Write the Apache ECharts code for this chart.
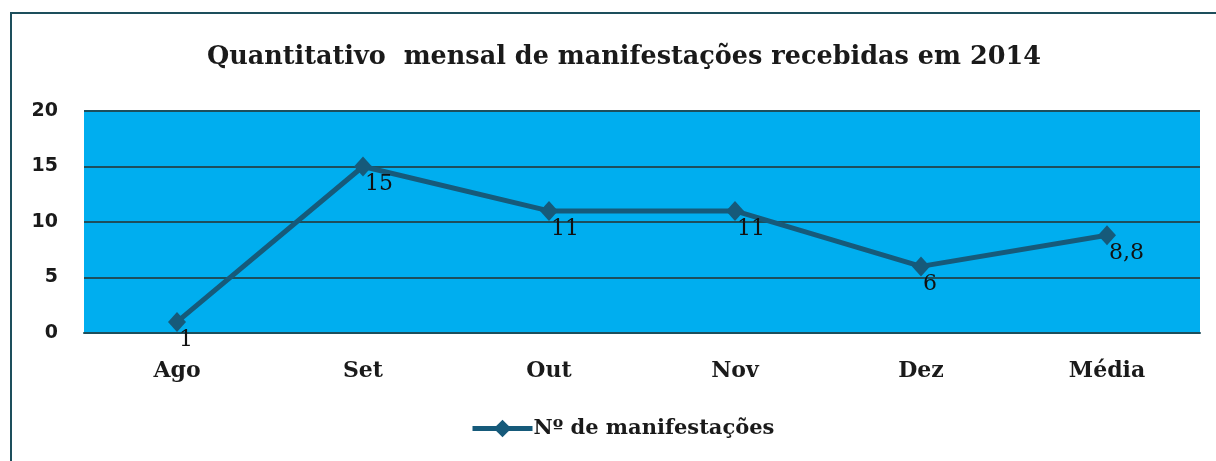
<!DOCTYPE html>
<html><head><meta charset="utf-8">
<script src="https://cdn.jsdelivr.net/npm/echarts@6/dist/echarts.min.js"></script>
<style>
html,body{margin:0;padding:0;background:#fff;overflow:hidden;}
#frame{position:absolute;left:10px;top:12px;width:1220px;height:470px;border:2px solid #1d4f5c;box-sizing:border-box;}
#c{position:absolute;left:0;top:0;width:1216px;height:461px;}
</style></head>
<body>
<div id="frame"></div>
<div id="c"></div>
<script>
const titleText = 'Quantitativo  mensal de manifestações recebidas em 2014';
const categories = ['Ago', 'Set', 'Out', 'Nov', 'Dez', 'Média'];
const seriesName = 'Nº de manifestações';
const values = [1, 15, 11, 11, 6, 8.8];
const yTicks = [0, 5, 10, 15, 20];

const chart = echarts.init(document.getElementById('c'), null, {renderer: 'canvas'});
const serif = '"DejaVu Serif", "Liberation Serif", serif';
const lineColor = '#165a7a';
chart.setOption({
  backgroundColor: 'transparent',
  animation: false,
  title: {
    text: titleText,
    left: 202, top: 39,
    textStyle: {fontFamily: serif, fontWeight: 'bold', fontSize: 25.5, color: '#1a1a1a'}
  },
  legend: {
    data: [seriesName],
    bottom: 17, left: 465,
    itemWidth: 60, itemHeight: 22, itemGap: 4,
    lineStyle: {width: 5, color: lineColor},
    textStyle: {fontFamily: serif, fontWeight: 'bold', fontSize: 21, color: '#1a1a1a', padding: [0,0,0,-4]}
  },
  grid: {left: 84, right: 16, top: 111, bottom: 128, containLabel: false, show: true, backgroundColor: '#00AEEF', borderWidth: 0},
  xAxis: {
    type: 'category', data: categories, boundaryGap: true,
    axisLine: {show: true, lineStyle: {color: '#1d4f5c', width: 2}},
    axisTick: {show: false},
    axisLabel: {margin: 27, fontFamily: serif, fontWeight: 'bold', fontSize: 22, color: '#1a1a1a'}
  },
  yAxis: {
    type: 'value', min: yTicks[0], max: yTicks[yTicks.length-1], interval: 5,
    axisLine: {show: false}, axisTick: {show: false},
    splitLine: {show: true, lineStyle: {color: '#1d4f5c', width: 2}},
    axisLabel: {margin: 26, fontFamily: '"DejaVu Sans", Verdana, sans-serif', fontWeight: 'bold', fontSize: 19, color: '#1a1a1a'}
  },
  series: [{
    name: seriesName, type: 'line', data: values,
    symbol: 'diamond', symbolSize: [18, 20],
    lineStyle: {color: lineColor, width: 5},
    itemStyle: {color: lineColor},
    label: {
      show: true, position: [11, 17], align: 'left', verticalAlign: 'top',
      formatter: p => String(p.value).replace('.', ','),
      fontFamily: serif, fontSize: 22, color: '#111'
    }
  }]
});
</script>
</body></html>
